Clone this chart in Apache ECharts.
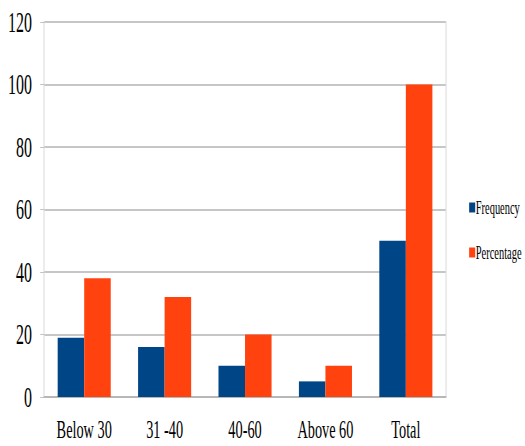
<!DOCTYPE html>
<html>
<head>
<meta charset="utf-8">
<script src="https://cdn.jsdelivr.net/npm/echarts@6/dist/echarts.min.js"></script>
<style>
  html, body { margin: 0; padding: 0; background: #fff; overflow: hidden; }
  #wrap { width: 525px; height: 446px; overflow: hidden; }
  /* the source picture is squeezed sideways, so draw wide and squeeze */
  #main { width: 955px; height: 446px; transform: scaleX(0.55); transform-origin: 0 0; }
</style>
</head>
<body>
<div id="wrap"><div id="main"></div></div>
<script>
var categories = ['Below 30', '31 -40', '40-60', 'Above 60', 'Total'];
var frequency = [19, 16, 10, 5, 50];
var percentage = [38, 32, 20, 10, 100];
var yTicks = [0, 20, 40, 60, 80, 100, 120];

var chart = echarts.init(document.getElementById('main'), null, { renderer: 'svg' });
chart.setOption({
  animation: false,
  color: ['#004586', '#ff420e'],
  textStyle: { fontFamily: 'Liberation Serif' },
  grid: { left: 80, right: 144, top: 22, bottom: 49 },
  legend: {
    orient: 'vertical',
    left: 848, top: 193,
    itemWidth: 11, itemHeight: 10, itemGap: 26,
    icon: 'rect',
    textStyle: { fontFamily: 'Liberation Serif', fontSize: 19, color: '#000', padding: [0, 0, 0, -4] },
    data: ['Frequency', 'Percentage']
  },
  xAxis: {
    type: 'category',
    data: categories,
    axisLine: { lineStyle: { color: '#b3b3b3', width: 1.5 } },
    axisTick: { length: 8, lineStyle: { color: '#b3b3b3', width: 2 } },
    axisLabel: { interval: 0, color: '#000', fontSize: 26, margin: 19, fontFamily: 'Liberation Serif' }
  },
  yAxis: [{
    type: 'value',
    min: yTicks[0], max: yTicks[yTicks.length - 1], interval: 20,
    axisLine: { show: true, lineStyle: { color: '#dddddd', width: 2 } },
    axisTick: { show: true, length: 7, lineStyle: { color: '#b3b3b3' } },
    splitLine: { lineStyle: { color: '#b3b3b3', width: 1.5 } },
    axisLabel: { color: '#000', fontSize: 29, margin: 22, fontFamily: 'Liberation Serif' }
  }, {
    type: 'value',
    position: 'right',
    min: yTicks[0], max: yTicks[yTicks.length - 1], interval: 20,
    axisLine: { show: true, lineStyle: { color: '#dddddd', width: 2 } },
    axisTick: { show: false },
    axisLabel: { show: false },
    splitLine: { show: false }
  }],
  series: [
    { name: 'Frequency', type: 'bar', data: frequency, barGap: '0%', barCategoryGap: '34%' },
    { name: 'Percentage', type: 'bar', data: percentage, barGap: '0%', barCategoryGap: '34%' }
  ]
});
</script>
</body>
</html>
